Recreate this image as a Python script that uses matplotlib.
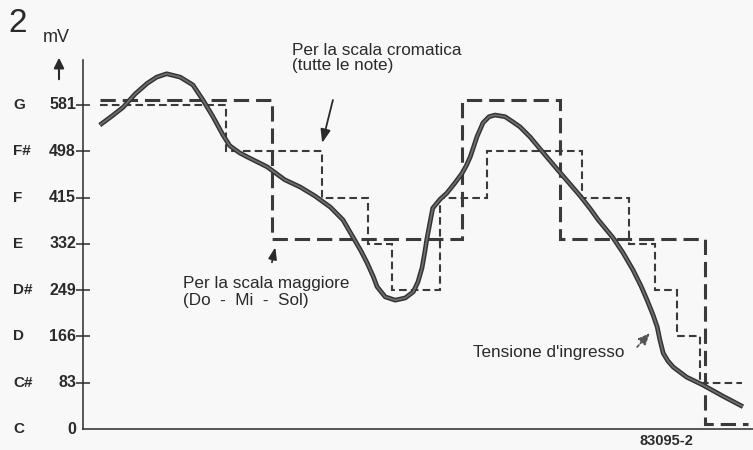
import matplotlib
matplotlib.use("Agg")
import matplotlib.pyplot as plt

plt.rcParams['font.family'] = ['Liberation Sans', 'DejaVu Sans']
plt.rcParams['lines.scale_dashes'] = False

# note levels (mV) on the vertical axis
notes = ['C', 'C#', 'D', 'D#', 'E', 'F', 'F#', 'G']
levels = [0, 83, 166, 249, 332, 415, 498, 581]

# input voltage (time in arbitrary units, mV)
t_in = [2.5, 4.3, 6.0, 7.8, 9.6, 11.0, 12.5, 14.5, 16.4, 17.9, 19.4, 20.9, 21.9,
        23.4, 24.5, 27.5, 30.1, 32.4, 34.6, 36.9, 38.8, 40.3, 41.5, 42.4, 43.3,
        43.9, 45.1, 46.6, 48.1, 49.3, 50.0, 50.6, 51.0, 51.3, 51.8, 52.2, 53.3,
        54.3, 55.5, 56.6, 57.2, 57.8, 58.8, 59.7, 60.6, 61.5, 63.0, 64.0, 65.2,
        66.7, 69.0, 70.9, 72.7, 74.2, 75.7, 76.9, 79.1, 80.6, 82.1, 83.3, 84.2,
        85.1, 85.7, 86.1, 86.6, 87.3, 88.1, 89.1, 90.1, 92.5, 95.5, 98.5]
v_in = [545, 561, 577, 601, 620, 631, 637, 631, 617, 590, 560, 527, 508,
        495, 488, 470, 447, 434, 418, 398, 375, 344, 319, 298, 274,
        255, 237, 231, 235, 246, 264, 289, 316, 339, 371, 396, 412,
        423, 441, 459, 472, 488, 524, 549, 560, 563, 560, 552, 542,
        524, 491, 464, 439, 418, 395, 375, 343, 316, 285, 256, 231,
        204, 183, 160, 136, 122, 111, 102, 93, 79, 59, 40]

# major scale (Do - Mi - Sol) quantiser output
t_maj = [2.5, 28.2, 56.6, 71.2, 92.8, 99.3]
v_maj = [581, 332, 581, 332, 0]

# chromatic scale quantiser output
t_chr = [2.5, 21.3, 35.7, 42.5, 46.1, 53.3, 60.3, 74.5, 81.5, 85.4, 88.7, 92.1, 98.4]
v_chr = [581, 498, 415, 332, 249, 415, 498, 415, 332, 249, 166, 83]

bg = '#f8f8f8'
ink = '#2a2a2a'

fig = plt.figure(figsize=(7.53, 4.5), dpi=100, facecolor=bg)
ax = fig.add_axes([83/753, 21/450, 670/753, 369/450])
ax.set_facecolor(bg)
ax.set_xlim(0, 100)
ax.set_ylim(0, 369 * 1.7932)

# major steps sit a little above the grid in the original drawing
maj_shift = 9
ax.stairs([v + maj_shift for v in v_maj], t_maj, baseline=None, fill=False,
          edgecolor='#3a3a3a', linewidth=2.2, linestyle=(0, (11, 5)))
ax.stairs(v_chr, t_chr, baseline=None, fill=False,
          edgecolor='#3a3a3a', linewidth=1.5, linestyle=(0, (5.5, 3)))

ax.plot(t_in, v_in, color='#333333', lw=3.4, solid_joinstyle='round',
        solid_capstyle='butt', zorder=4)
ax.plot(t_in, v_in, color='#6e6e6e', lw=1.3, solid_joinstyle='round',
        solid_capstyle='butt', zorder=5)

for s in ['top', 'right']:
    ax.spines[s].set_visible(False)
for s in ['left', 'bottom']:
    ax.spines[s].set_linewidth(1.1)
    ax.spines[s].set_color(ink)
ax.set_xticks([])
ax.set_yticks(levels[1:])
ax.tick_params(axis='y', direction='inout', length=10, width=1.1, color=ink,
               labelleft=False)

ytr = ax.get_yaxis_transform()
for n, v in zip(notes, levels):
    ax.text(-0.0105, v, str(v), transform=ytr, ha='right', va='center',
            fontsize=11.5, fontweight='bold', color=ink, clip_on=False)
    ax.text(-0.1045, v, n, transform=ytr, ha='left', va='center',
            fontsize=11, fontweight='bold', color=ink, clip_on=False)

fig.text(8/753, 1 - 24/450, '2', fontsize=24, ha='left', va='center', color=ink)
fig.text(43/753, 1 - 38/450, 'mV', fontsize=13, ha='left', va='center', color=ink)
fig.patches.append(matplotlib.patches.FancyArrowPatch(
    (59/753, 1 - 82/450), (59/753, 1 - 55/450), transform=fig.transFigure,
    arrowstyle='-|>,head_length=6,head_width=3', color=ink, lw=1.5))

fig.text(292/753, 1 - 58/450, 'Per la scala cromatica\n(tutte le note)', fontsize=12.3,
         ha='left', va='center', color=ink, linespacing=1.05)
fig.text(183/753, 1 - 292/450, 'Per la scala maggiore\n(Do  -  Mi  -  Sol)', fontsize=12.3,
         ha='left', va='center', color=ink, linespacing=1.1)
fig.text(473/753, 1 - 352/450, "Tensione d'ingresso", fontsize=12.3,
         ha='left', va='center', color=ink)
fig.text(640/753, 1 - 441/450, '83095-2', fontsize=10.5, fontweight='bold',
         ha='left', va='center', color=ink)

ax.annotate('', xy=(35.7, 513), xytext=(37.3, 590),
            arrowprops=dict(arrowstyle='-|>,head_length=0.8,head_width=0.3',
                            color=ink, lw=1.3, shrinkA=0, shrinkB=0))
ax.annotate('', xy=(28.7, 326), xytext=(28.2, 299),
            arrowprops=dict(arrowstyle='-|>,head_length=0.7,head_width=0.25',
                            color=ink, lw=1.3, shrinkA=0, shrinkB=0))
ax.annotate('', xy=(84.6, 172), xytext=(82.7, 147),
            arrowprops=dict(arrowstyle='-|>,head_length=0.7,head_width=0.3',
                            color='#555555', lw=1.2, linestyle=(0, (2, 1.5)),
                            shrinkA=0, shrinkB=0))

fig.savefig('out.png', dpi=100, facecolor=bg)
